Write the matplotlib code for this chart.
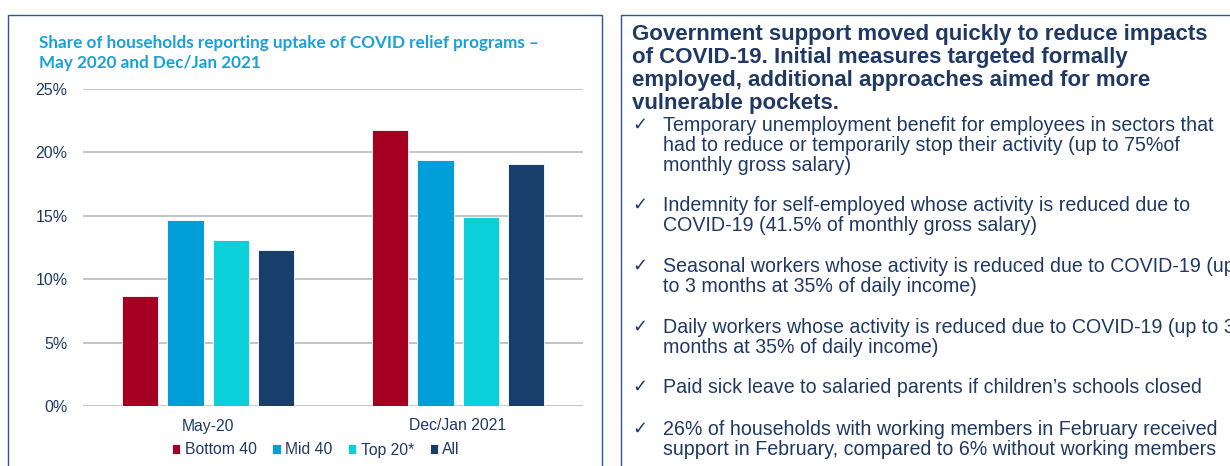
import numpy as np
import matplotlib.pyplot as plt
from matplotlib.patches import Rectangle

# uptake of covid relief programs, share of households
periods = ['May-20', 'Dec/Jan 2021']
groups = ['Bottom 40', 'Mid 40', 'Top 20*', 'All']
uptake = {
    'Bottom 40': [0.087, 0.218],
    'Mid 40': [0.147, 0.194],
    'Top 20*': [0.131, 0.149],
    'All': [0.123, 0.191],
}
colors = ['#A50021', '#009FDA', '#0BD0D9', '#183F6C']
y_ticks = [0, 0.05, 0.10, 0.15, 0.20, 0.25]

heading = ['Government support moved quickly to reduce impacts',
           'of COVID-19. Initial measures targeted formally',
           'employed, additional approaches aimed for more',
           'vulnerable pockets.']
bullets = [
    ['Temporary unemployment benefit for employees in sectors that',
     'had to reduce or temporarily stop their activity (up to 75%of',
     'monthly gross salary)'],
    ['Indemnity for self-employed whose activity is reduced due to',
     'COVID-19 (41.5% of monthly gross salary)'],
    ['Seasonal workers whose activity is reduced due to COVID-19 (up',
     'to 3 months at 35% of daily income)'],
    ['Daily workers whose activity is reduced due to COVID-19 (up to 3',
     'months at 35% of daily income)'],
    ['Paid sick leave to salaried parents if children\u2019s schools closed'],
    ['26% of households with working members in February received',
     'support in February, compared to 6% without working members'],
]
bullet_baselines = [131, 211, 272, 333, 393, 435]

W, H = 1230, 466
navy = '#1F3864'
border = '#2E5597'

fig = plt.figure(figsize=(W / 100, H / 100), dpi=100)


def px(x, y):
    return x / W, 1 - y / H


# panel frames (run off the bottom / right edge)
fig.patches.append(Rectangle(px(8, 480), 594 / W, 465 / H, transform=fig.transFigure,
                             fill=False, edgecolor=border, lw=1.0))
fig.patches.append(Rectangle(px(621, 480), 640 / W, 465 / H, transform=fig.transFigure,
                             fill=False, edgecolor=border, lw=1.0))

ax = fig.add_axes([83 / W, 60 / H, 500 / W, 317 / H])
x = np.arange(len(periods))
step, width = 0.181, 0.145
for i, g in enumerate(groups):
    ax.bar(x + (i - 1.5) * step, uptake[g], width, color=colors[i], label=g,
           edgecolor='white', linewidth=0.6, zorder=3)

ax.set_ylim(0, 0.25)
ax.set_xlim(-0.5, 1.5)
ax.set_yticks(y_ticks)
ax.set_yticklabels([f'{int(round(t * 100))}%' for t in y_ticks],
                   fontsize=11.5, color=navy, family='Liberation Sans')
ax.set_xticks(x)
ax.set_xticklabels(periods, fontsize=11.3, color=navy, family='Liberation Sans')
ax.tick_params(length=0)
ax.tick_params(axis='x', pad=9)
ax.tick_params(axis='y', pad=11)
ax.grid(axis='y', color='#BFBFBF', lw=1.3, zorder=0)
for s in ax.spines.values():
    s.set_visible(False)

ax.legend(loc='center', bbox_to_anchor=px(316, 450), bbox_transform=fig.transFigure,
          ncol=4, frameon=False, handlelength=0.52, handleheight=0.52,
          handletextpad=0.28, columnspacing=1.0, borderpad=0,
          prop={'family': 'Liberation Sans', 'size': 11.3}, labelcolor=navy)

fig.text(*px(39, 43), 'Share of households reporting uptake of COVID relief programs \u2013',
         ha='left', va='center', fontsize=12.3, fontweight='bold', color='#1AA0D8',
         family='Lato')
fig.text(*px(39, 63), 'May 2020 and Dec/Jan 2021', ha='left', va='center', fontsize=12.3,
         fontweight='bold', color='#1AA0D8', family='Lato')

# right panel text
for k, line in enumerate(heading):
    fig.text(*px(632, 40 + 23 * k), line, ha='left', va='baseline', fontsize=16,
             fontweight='bold', color=navy, family='Liberation Sans')
for base, lines in zip(bullet_baselines, bullets):
    fig.text(*px(632, base - 6), '\u2713', ha='left', va='center', fontsize=13,
             color=navy, family='DejaVu Sans')
    for k, line in enumerate(lines):
        fig.text(*px(663, base + 20 * k), line, ha='left', va='baseline', fontsize=14.1,
                 color=navy, family='Liberation Sans')

fig.savefig('out.png', dpi=100)
